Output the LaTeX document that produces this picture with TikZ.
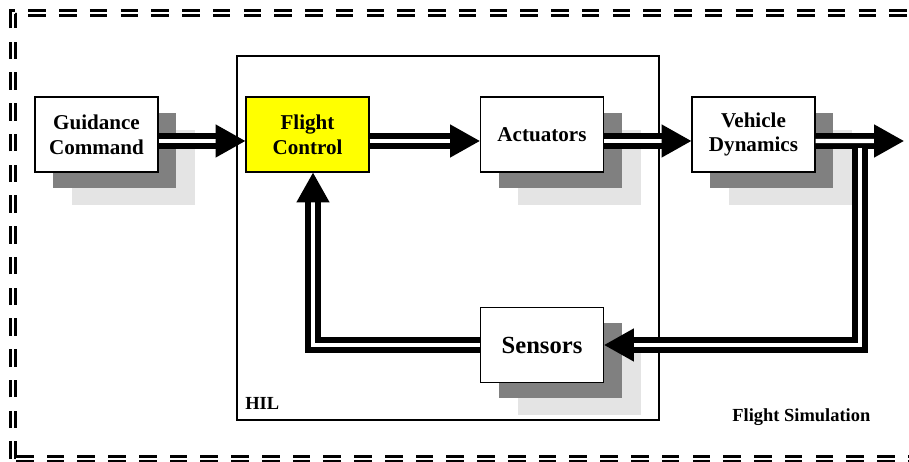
\documentclass[tikz,border=0pt]{standalone}
\usepackage{fontspec}
\setmainfont{Liberation Serif}
\usetikzlibrary{arrows.meta, shadows}
\definecolor{ShDark}{RGB}{128,128,128}
\definecolor{ShLight}{RGB}{228,228,228}
\definecolor{FCYellow}{RGB}{255,255,0}

\begin{document}
\begin{tikzpicture}[
    unit/.style={rectangle, draw=black, fill=white, line width=0.6pt,
                 minimum width=2.46cm, minimum height=1.5cm, inner sep=0pt,
                 font=\fontsize{12}{14}\selectfont\bfseries, align=center},
    shunit/.style={unit,
                 general shadow={fill=ShLight, draw=none, shadow xshift=0.74cm, shadow yshift=-0.66cm},
                 general shadow={fill=ShDark, draw=none, shadow xshift=0.36cm, shadow yshift=-0.32cm}},
    flow/.style={double, line width=3.3pt, double distance=2.3pt,
                 -{Triangle[length=17pt, width=18pt]}},
    frame/.style={double, line width=1.5pt, double distance=1.1pt,
                  dash pattern=on 10pt off 7.5pt},
    lbl/.style={font=\fontsize{10.5}{12}\selectfont\bfseries, anchor=base west, inner sep=0pt}
  ]
  \useasboundingbox (0,0) rectangle (18.18,9.24);

  % Outer frame and HIL box
  \draw[frame] (0.26,0.06) rectangle (18.3,8.98);
  \draw[line width=1pt] (4.74,0.84) rectangle (13.18,8.12);
  \node[lbl] (hil) at (4.9,1.04) {HIL};
  \node[lbl] (sim) at (14.64,0.8) {Flight Simulation};

  % Blocks
  \node[shunit] (gc)  at (1.93,6.55)  {Guidance\\Command};
  \node[unit, fill=FCYellow] (fc) at (6.15,6.55) {Flight\\Control};
  \node[shunit] (act) at (10.84,6.55) {Actuators};
  \node[shunit] (vd)  at (15.07,6.55) {Vehicle\\Dynamics};
  \node[shunit, font=\fontsize{14}{16}\selectfont\bfseries] (sen) at (10.84,2.34) {Sensors};

  \coordinate (out) at (18.08,6.42);
  \coordinate (br)  at (17.2,6.28);

  % Signal flow
  \draw[flow] ([yshift=-1.3mm]gc.east)  -- ([yshift=-1.3mm]fc.west);
  \draw[flow] ([yshift=-1.3mm]fc.east)  -- ([yshift=-1.3mm]act.west);
  \draw[flow] ([yshift=-1.3mm]act.east) -- ([yshift=-1.3mm]vd.west);
  \draw[flow] ([yshift=-1.3mm]vd.east)  -- (out);
  \draw[flow] (br) |- (sen.east);
  \draw[flow] (sen.west) -| ([xshift=1.1mm]fc.south);
\end{tikzpicture}
\end{document}
